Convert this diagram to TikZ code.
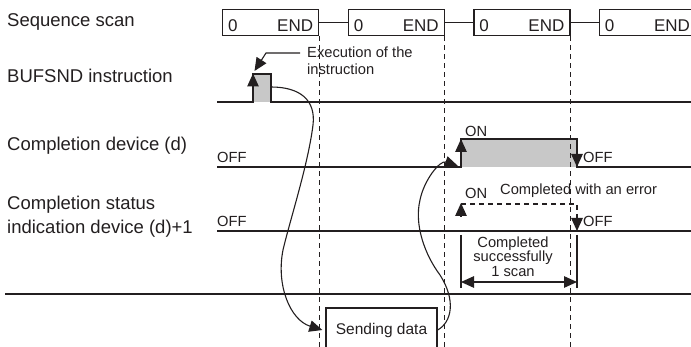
\documentclass[tikz,border=0pt]{standalone}
\usepackage{fontspec}
\setmainfont{Liberation Sans}
\usepackage{xcolor}
\usetikzlibrary{arrows.meta}

\definecolor{ink}{HTML}{231F20}
\definecolor{pulsegray}{HTML}{C8C8C8}

\begin{document}
\begin{tikzpicture}[
  x=1pt, y=-1pt,
  color=ink,
  lab/.style={font=\fontsize{18.5}{24}\selectfont, inner sep=0pt, anchor=base west, align=left},
  note/.style={font=\fontsize{14.7}{17.5}\selectfont, inner sep=0pt, anchor=base west},
  scanbox/.style={draw, line width=1.3pt, minimum height=26pt, text width=85pt,
    text height=20pt, text depth=1.8pt,
    inner xsep=5.5pt, inner ysep=0pt, font=\fontsize{17}{20}\selectfont, anchor=north west},
  wave/.style={line width=1.3pt},
  guide/.style={line width=1.1pt, dash pattern=on 5pt off 4pt},
  sig/.style={line width=1.2pt, -{Triangle[length=13pt,width=11.5pt]}},
  dimarrow/.style={line width=1.2pt, {Triangle[length=13pt,width=11.5pt]}-{Triangle[length=13pt,width=11.5pt]}}
]
\useasboundingbox (0,0) rectangle (691,347);
\coordinate (bot) at (0,347);
\coordinate (bufend) at (271,87);
\coordinate (devfoot) at (458,166);
\coordinate (leadstart) at (300,53);

\fill[pulsegray] (253,74) rectangle (271,102);
\fill[pulsegray] (461,139) rectangle (577,167);

% sequence scan
\node[lab] (lscan) at (7,27) {Sequence scan};
\foreach \i in {1,...,4}
  \node[scanbox] (s\i) at ({222+125.6*(\i-1)},9) {0\hfill END};
\foreach \i/\j in {1/2,2/3,3/4}
  \draw[wave] (s\i.east) -- (s\j.west);
\foreach \i in {1,2,3}
  \draw[guide] (s\i.south east) -- (s\i.south east |- bot);

% BUFSND instruction
\node[lab] (lbuf) at (7,83) {BUFSND instruction};
\draw[wave] (217,102) -- (253,102) -- (253,74) -- (271,74) -- (271,102) -- (691,102);
\draw[sig] (253,102) -- (253,73.5);
\node[note, align=left] (lexec) at (307,75) {Execution of the\\instruction};
\draw[sig, line width=1.1pt] (leadstart) -- (266,53) -- (254.5,71);

% completion device
\node[lab] (ldev) at (7,151) {Completion device (d)};
\node[note] (offd) at (217,163) {OFF};
\draw[wave] (217,167) -- (461,167) -- (461,139) -- (577,139) -- (577,167) -- (691,167);
\draw[sig] (461,167) -- (461,139);
\draw[sig] (577,139) -- (577,167);
\node[note] (ond) at (465,136.5) {ON};
\node[note] (offd2) at (583,163) {OFF};

% completion status
\node[lab] (lsta) at (7,234) {Completion status\\indication device (d)+1};
\node[note] (offs) at (217,227) {OFF};
\draw[wave] (217,231) -- (691,231);
\draw[guide, line width=1.2pt, -{Triangle[length=13pt,width=11.5pt]}] (461,204) -- (577,204) -- (577,231);
\draw[sig] (461,216) -- (461,203);
\node[note] (ons) at (465,199) {ON};
\node[note] (err) at (500,195) {Completed with an error};
\node[note] (offs2) at (583,227) {OFF};

% one scan
\draw[line width=1.1pt] (461,235) -- (461,288);
\draw[line width=1.1pt] (577,235) -- (577,288);
\draw[dimarrow] (461,282) -- (577,282);
\node[note, anchor=base, align=center, font=\fontsize{14.7}{14.5}\selectfont] (succ) at (513,276.5) {Completed\\successfully\\1 scan};

% separator
\draw[line width=2.6pt] (5,294) -- (691,294);

% sending data
\node[draw, line width=1.3pt, minimum width=111pt, minimum height=44pt,
  font=\fontsize{15.5}{18}\selectfont] (send) at (381.5,330) {Sending data};
\draw[sig, line width=1.1pt] (bufend) .. controls (300,87) and (316,100) .. (313,125)
  .. controls (308,165) and (290,220) .. (283,250)
  .. controls (276,285) and (290,320) .. ([xshift=-3pt]send.west);
\draw[sig, line width=1.1pt] (send.east) .. controls (452,322) and (456,300) .. (440,275)
  .. controls (425,255) and (414,225) .. (420,200)
  .. controls (424,180) and (440,160) .. (devfoot);
\end{tikzpicture}
\end{document}
